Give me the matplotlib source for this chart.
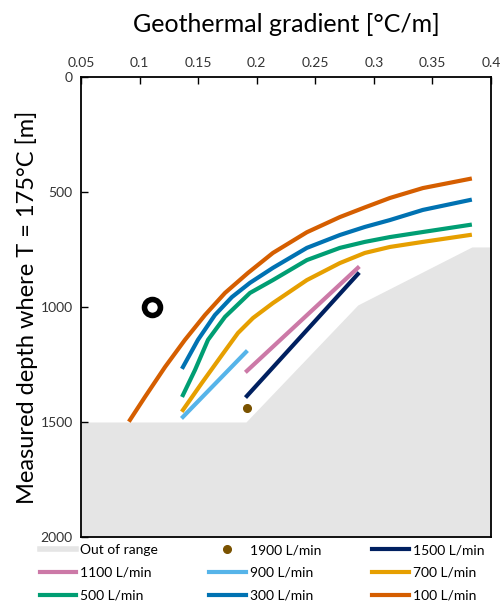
import matplotlib
matplotlib.use("Agg")
import matplotlib.pyplot as plt
from matplotlib.lines import Line2D

plt.rcParams["font.family"] = ["Lato", "DejaVu Sans"]

# boundary of the out-of-range area (gradient, depth)
oor_x = [0.05, 0.1908, 0.2863, 0.3836, 0.4]
oor_y = [1500, 1500, 991, 739, 739]

# curves (gradient [C/m], depth [m])
q100_x = [0.0918, 0.1046, 0.1217, 0.1387, 0.1558, 0.1729, 0.1925, 0.2138, 0.2428, 0.2710, 0.2923, 0.3137, 0.3418, 0.3819]
q100_y = [1491, 1391, 1261, 1143, 1035, 939, 852, 765, 675, 609, 567, 526, 483, 443]

q300_x = [0.1370, 0.1498, 0.1643, 0.1788, 0.1942, 0.2138, 0.2428, 0.2710, 0.2923, 0.3137, 0.3418, 0.3819]
q300_y = [1261, 1143, 1035, 957, 895, 830, 743, 687, 652, 622, 578, 535]

q500_x = [0.1370, 0.1473, 0.1584, 0.1729, 0.1942, 0.2138, 0.2428, 0.2710, 0.2923, 0.3137, 0.3418, 0.3819]
q500_y = [1383, 1274, 1143, 1043, 939, 883, 796, 743, 717, 696, 674, 643]

q700_x = [0.1370, 0.1532, 0.1703, 0.1840, 0.1968, 0.2138, 0.2428, 0.2710, 0.2923, 0.3137, 0.3418, 0.3819]
q700_y = [1448, 1330, 1209, 1113, 1048, 983, 883, 809, 765, 739, 717, 687]

q900_x = [0.137, 0.1908]
q900_y = [1478, 1196]

q1100_x = [0.1916, 0.2863]
q1100_y = [1278, 830]

q1500_x = [0.1916, 0.2863]
q1500_y = [1387, 857]

q1900_x = [0.1916]
q1900_y = [1439]

# observed well (black ring)
obs_x = [0.111]
obs_y = [1000]

x_ticks = [0.05, 0.1, 0.15, 0.2, 0.25, 0.3, 0.35, 0.4]
x_tick_labels = ["0.05", "0.1", "0.15", "0.2", "0.25", "0.3", "0.35", "0.4"]
y_ticks = [0, 500, 1000, 1500, 2000]

fig = plt.figure(figsize=(5.02, 6.01), dpi=100)
ax = fig.add_axes([0.1614, 0.1065, 0.8167, 0.7654])

gray = "#E5E5E5"
ax.fill_between(oor_x, oor_y, 2000, color=gray, lw=0, zorder=1)

lw = 3
ax.plot(q100_x, q100_y, color="#D55E00", lw=lw, zorder=3)
ax.plot(q300_x, q300_y, color="#0072B2", lw=lw, zorder=3)
ax.plot(q500_x, q500_y, color="#009E73", lw=lw, zorder=3)
ax.plot(q700_x, q700_y, color="#E69F00", lw=lw, zorder=3)
ax.plot(q900_x, q900_y, color="#56B4E9", lw=lw, zorder=3)
ax.plot(q1100_x, q1100_y, color="#CC79A7", lw=lw, zorder=3)
ax.plot(q1500_x, q1500_y, color="#002060", lw=lw, zorder=3)
ax.plot(q1900_x, q1900_y, "o", color="#7A5200", ms=5.5, zorder=3)
ax.plot(obs_x, obs_y, "o", mfc="white", mec="black", mew=4, ms=11.5, zorder=4)

ax.set_xlim(0.05, 0.4)
ax.set_ylim(2000, 0)
ax.xaxis.tick_top()
ax.set_xticks(x_ticks)
ax.set_xticklabels(x_tick_labels)
ax.set_yticks(y_ticks)
ax.tick_params(direction="in", length=5, width=1, labelsize=10, labelcolor="#333333", pad=6)
for s in ax.spines.values():
    s.set_linewidth(1.3)

ax.xaxis.set_label_position("top")
ax.set_xlabel("Geothermal gradient [°C/m]", fontsize=18, labelpad=18)
ax.set_ylabel("Measured depth where T = 175°C [m]", fontsize=17)
ax.yaxis.set_label_coords(-0.105, 0.5)

# legend laid out row by row like the original
h = [
    Line2D([], [], color=gray, lw=4),
    Line2D([], [], ls="none", marker="o", color="#7A5200", ms=5.5),
    Line2D([], [], color="#002060", lw=3),
    Line2D([], [], color="#CC79A7", lw=3),
    Line2D([], [], color="#56B4E9", lw=3),
    Line2D([], [], color="#E69F00", lw=3),
    Line2D([], [], color="#009E73", lw=3),
    Line2D([], [], color="#0072B2", lw=3),
    Line2D([], [], color="#D55E00", lw=3),
]
labels = ["Out of range", "1900 L/min", "1500 L/min", "1100 L/min", "900 L/min",
          "700 L/min", "500 L/min", "300 L/min", "100 L/min"]
order = [0, 3, 6, 1, 4, 7, 2, 5, 8]
fig.legend([h[i] for i in order], [labels[i] for i in order], ncol=3, loc="lower center",
           bbox_to_anchor=(0.522, -0.022), frameon=False, fontsize=10, handlelength=2.6,
           columnspacing=3.7, labelspacing=0.78, handletextpad=0.3)

fig.savefig("out.png", dpi=100)
